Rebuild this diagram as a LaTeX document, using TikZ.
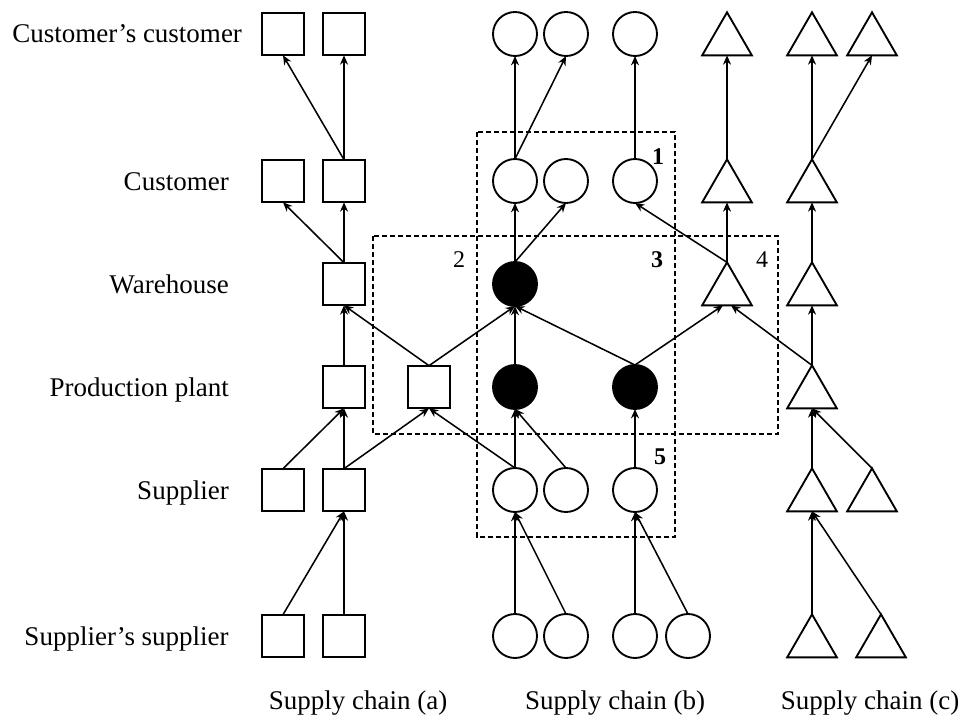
\documentclass[tikz,border=0pt]{standalone}
\usepackage{fontspec}
\setmainfont{Liberation Serif}
\usetikzlibrary{shapes.geometric, arrows.meta}
\begin{document}
\begin{tikzpicture}[x=0.75pt,y=-0.75pt,
 sq/.style={draw, line width=1.4pt, minimum size=32pt, inner sep=0pt, outer sep=0pt},
 ci/.style={draw, circle, line width=1.4pt, minimum size=33pt, inner sep=0pt, outer sep=0pt},
 bc/.style={ci, fill=black},
 tri/.style={draw, regular polygon, regular polygon sides=3, line width=1.4pt, minimum size=43pt, inner sep=0pt, outer sep=0pt},
 lab/.style={font=\fontsize{20.25}{24}\selectfont, inner sep=0pt},
 num/.style={font=\fontsize{18}{20}\selectfont, inner sep=0pt},
 bnum/.style={font=\fontsize{18}{20}\selectfont\bfseries, inner sep=0pt},
 dbox/.style={draw, line width=1.3pt, dash pattern=on 4pt off 2pt},
 ar/.style={-{Stealth[length=7pt,width=6pt]}, line width=1.15pt}]
\useasboundingbox (0,0) rectangle (966,717);

% dashed boxes
\draw[dbox] (477,132) rectangle (675,537);
\draw[dbox] (373,236) rectangle (778,434);
\node[bnum] (n1) at (658,157) {1};
\node[num] (n2) at (459,260) {2};
\node[bnum] (n3) at (657,260) {3};
\node[num] (n4) at (762,260) {4};
\node[bnum] (n5) at (660,457) {5};

% row labels
\node[lab, anchor=base west] (l1) at (12,43) {Customer’s customer};
\node[lab, anchor=base east] (l2) at (229,190) {Customer};
\node[lab, anchor=base east] (l3) at (229,293) {Warehouse};
\node[lab, anchor=base east] (l4) at (229,396) {Production plant};
\node[lab, anchor=base east] (l5) at (229,499) {Supplier};
\node[lab, anchor=base east] (l6) at (229,645) {Supplier’s supplier};

% column labels
\node[lab, anchor=base] (ca) at (358,709) {Supply chain (a)};
\node[lab, anchor=base] (cb) at (615,709) {Supply chain (b)};
\node[lab, anchor=base] (cc) at (870,709) {Supply chain (c)};

% chain (a)
\node[sq] (a11) at (283,34) {};
\node[sq] (a12) at (344,34) {};
\node[sq] (a21) at (283,181) {};
\node[sq] (a22) at (344,181) {};
\node[sq] (a3) at (344,284) {};
\node[sq] (a41) at (344,387) {};
\node[sq] (a42) at (429,387) {};
\node[sq] (a51) at (283,490) {};
\node[sq] (a52) at (344,490) {};
\node[sq] (a61) at (283,636) {};
\node[sq] (a62) at (344,636) {};

% chain (b)
\node[ci] (b11) at (515,34) {};
\node[ci] (b12) at (566,34) {};
\node[ci] (b13) at (635,34) {};
\node[ci] (b21) at (515,181) {};
\node[ci] (b22) at (566,181) {};
\node[ci] (b23) at (635,181) {};
\node[bc] (b3) at (515,284) {};
\node[bc] (b41) at (515,387) {};
\node[bc] (b43) at (635,387) {};
\node[ci] (b51) at (515,490) {};
\node[ci] (b52) at (566,490) {};
\node[ci] (b53) at (635,490) {};
\node[ci] (b61) at (515,636) {};
\node[ci] (b62) at (566,636) {};
\node[ci] (b63) at (635,636) {};
\node[ci] (b64) at (688,636) {};

% chain (c)
\node[tri] (c11) at (727,41) {};
\node[tri] (c12) at (812,41) {};
\node[tri] (c13) at (872,41) {};
\node[tri] (c21) at (727,188) {};
\node[tri] (c22) at (812,188) {};
\node[tri] (c31) at (727,291) {};
\node[tri] (c32) at (812,291) {};
\node[tri] (c4) at (812,394) {};
\node[tri] (c51) at (812,497) {};
\node[tri] (c52) at (872,497) {};
\node[tri] (c61) at (812,643) {};
\node[tri] (c62) at (881,643) {};

% edges chain (a)
\draw[ar] (a61.north) -- (a52.south);
\draw[ar] (a62.north) -- (a52.south);
\draw[ar] (a51.north) -- (a41.south);
\draw[ar] (a52.north) -- (a41.south);
\draw[ar] (a52.north) -- (a42.south);
\draw[ar] (b51.north) -- (a42.south);
\draw[ar] (a41.north) -- (a3.south);
\draw[ar] (a42.north) -- (a3.south);
\draw[ar] (a42.north) -- (b3.south);
\draw[ar] (a3.north) -- (a21.south);
\draw[ar] (a3.north) -- (a22.south);
\draw[ar] (a22.north) -- (a11.south);
\draw[ar] (a22.north) -- (a12.south);

% edges chain (b)
\draw[ar] (b61.north) -- (b51.south);
\draw[ar] (b62.north) -- (b51.south);
\draw[ar] (b63.north) -- (b53.south);
\draw[ar] (b64.north) -- (b53.south);
\draw[ar] (b51.north) -- (b41.south);
\draw[ar] (b52.north) -- (b41.south);
\draw[ar] (b53.north) -- (b43.south);
\draw[ar] (b41.north) -- (b3.south);
\draw[ar] (b43.north) -- (b3.south);
\draw[ar] (b43.north) -- ([xshift=-3pt]c31.south);
\draw[ar] (b3.north) -- (b21.south);
\draw[ar] (b3.north) -- (b22.south);
\draw[ar] (b21.north) -- (b11.south);
\draw[ar] (b21.north) -- (b12.south);
\draw[ar] (b23.north) -- (b13.south);
\draw[ar] (c31.north) -- (b23.south);

% edges chain (c)
\draw[ar] (c31.north) -- (c21.south);
\draw[ar] (c21.north) -- (c11.south);
\draw[ar] (c4.north) -- ([xshift=3pt]c31.south);
\draw[ar] (c4.north) -- (c32.south);
\draw[ar] (c32.north) -- (c22.south);
\draw[ar] (c22.north) -- (c12.south);
\draw[ar] (c22.north) -- (c13.south);
\draw[ar] (c51.north) -- (c4.south);
\draw[ar] (c52.north) -- (c4.south);
\draw[ar] (c61.north) -- (c51.south);
\draw[ar] (c62.north) -- (c51.south);
\end{tikzpicture}
\end{document}
